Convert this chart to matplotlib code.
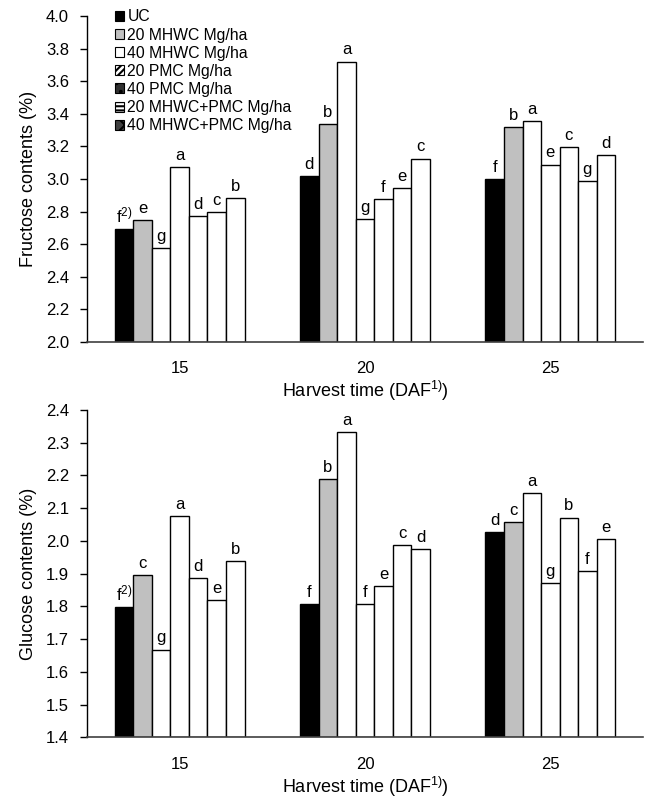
import matplotlib.pyplot as plt
from matplotlib.patches import Patch

plt.rcParams['font.family'] = ['Liberation Sans', 'DejaVu Sans']
plt.rcParams['mathtext.fontset'] = 'custom'
plt.rcParams['mathtext.rm'] = 'Liberation Sans'
plt.rcParams['mathtext.it'] = 'Liberation Sans'
plt.rcParams['hatch.linewidth'] = 1.5

harvest = ['15', '20', '25']
treatments = ['UC', '20 MHWC Mg/ha', '40 MHWC Mg/ha', '20 PMC Mg/ha',
              '40 PMC Mg/ha', '20 MHWC+PMC Mg/ha', '40 MHWC+PMC Mg/ha']

# one row per treatment, values for 15, 20, 25 DAF
fructose = [
    [2.69, 3.02, 3.00],
    [2.75, 3.335, 3.32],
    [2.575, 3.72, 3.356],
    [3.075, 2.755, 3.088],
    [2.77, 2.877, 3.197],
    [2.795, 2.945, 2.985],
    [2.88, 3.125, 3.148],
]
fructose_letters = [
    ['f', 'd', 'f'], ['e', 'b', 'b'], ['g', 'a', 'a'], ['a', 'g', 'e'],
    ['d', 'f', 'c'], ['c', 'e', 'g'], ['b', 'c', 'd'],
]

glucose = [
    [1.797, 1.806, 2.027],
    [1.895, 2.19, 2.057],
    [1.668, 2.332, 2.147],
    [2.076, 1.806, 1.871],
    [1.886, 1.861, 2.071],
    [1.818, 1.986, 1.907],
    [1.938, 1.975, 2.005],
]
glucose_letters = [
    ['f', 'f', 'd'], ['c', 'b', 'c'], ['g', 'a', 'a'], ['a', 'f', 'g'],
    ['d', 'e', 'b'], ['e', 'c', 'f'], ['b', 'd', 'e'],
]

bar_colors = ['black', '#c0c0c0', 'white', 'white', 'white', 'white', 'white']
legend_fill = ['black', '#c0c0c0', 'white', 'white', '#303030', 'white', '#404040']
legend_hatch = [None, None, None, '/////', '..', '----', 'xx']

fig = plt.figure(figsize=(6.47, 7.97), dpi=100)
ax1 = fig.add_axes([0.1345, 0.571, 0.8593, 0.409])
ax2 = fig.add_axes([0.1345, 0.075, 0.8593, 0.4106])

width = 0.1


def draw(ax, data, letters, ylim, step, ylabel, fmt):
    for i in range(len(treatments)):
        for j in range(len(harvest)):
            x = j + (i - 3) * width
            v = data[i][j]
            ax.bar(x, v - ylim[0], width, bottom=ylim[0], color=bar_colors[i],
                   edgecolor='black', linewidth=1.0)
            lab = letters[i][j]
            if i == 0 and j == 0:
                lab = lab + r'$^{2)}$'
            ax.annotate(lab, (x, v), xytext=(0, 3), textcoords='offset points',
                        ha='center', va='bottom', fontsize=12)
    ax.set_xlim(-0.5, 2.5)
    ax.set_ylim(*ylim)
    n = int(round((ylim[1] - ylim[0]) / step))
    ticks = [ylim[0] + k * step for k in range(n + 1)]
    ax.set_yticks(ticks)
    ax.set_yticklabels([fmt % t for t in ticks], fontsize=12)
    ax.set_xticks(range(len(harvest)))
    ax.set_xticklabels(harvest, fontsize=12)
    ax.tick_params(axis='x', length=0, pad=14)
    ax.tick_params(axis='y', direction='out', length=5, width=1, pad=8)
    ax.spines['top'].set_visible(False)
    ax.spines['right'].set_visible(False)
    ax.spines['left'].set_linewidth(1)
    ax.spines['bottom'].set_linewidth(1.2)
    ax.spines['bottom'].set_color('#404040')
    ax.set_ylabel(ylabel, fontsize=13, labelpad=6)
    ax.set_xlabel(r'Harvest time (DAF$^{1)}$)', fontsize=13, labelpad=2)


draw(ax1, fructose, fructose_letters, (2.0, 4.0), 0.2, 'Fructose contents (%)', '%.1f')
draw(ax2, glucose, glucose_letters, (1.4, 2.4), 0.1, 'Glucose contents (%)', '%.1f')

handles = [Patch(facecolor=legend_fill[i], edgecolor='black', hatch=legend_hatch[i],
                 linewidth=0.8, label=treatments[i]) for i in range(len(treatments))]
ax1.legend(handles=handles, loc='upper left', bbox_to_anchor=(0.05, 1.02),
           frameon=False, fontsize=11.3, handlelength=0.6, handleheight=0.6,
           handletextpad=0.2, labelspacing=0.2, borderaxespad=0, borderpad=0)

fig.savefig('out.png', dpi=100)
